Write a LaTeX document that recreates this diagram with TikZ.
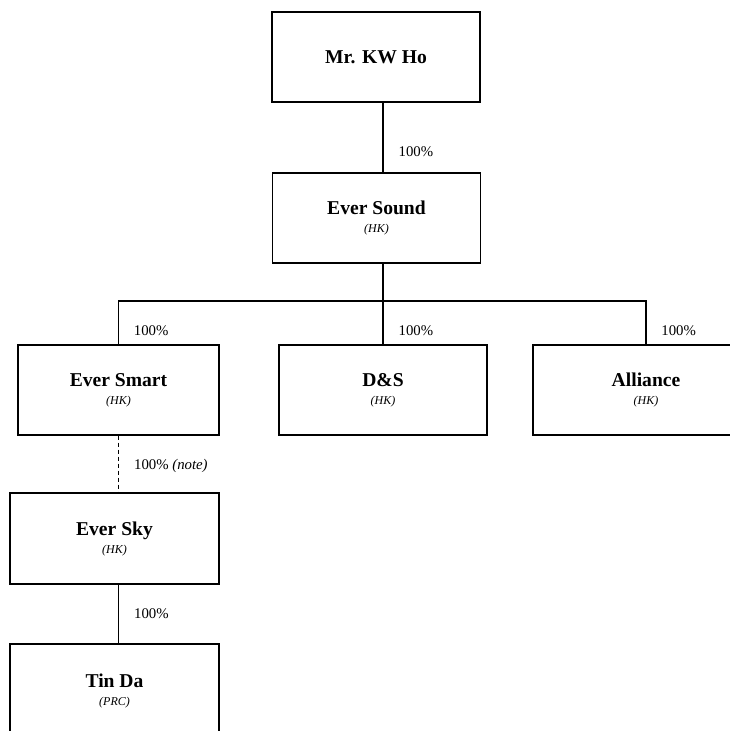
\documentclass[tikz,border=0pt]{standalone}
\usepackage{fontspec}
\setmainfont{Liberation Serif}
\usetikzlibrary{calc}
\tikzset{
    entity/.style={draw, line width=0.6pt, align=center, inner sep=0pt,
        minimum height=45pt, font=\fontsize{9.8}{10.5}\selectfont\bfseries},
    pct/.style={anchor=west, inner sep=0pt, xshift=7.5pt, font=\fontsize{7.4}{9}\selectfont},
    link/.style={line width=0.6pt}
}
\newcommand{\regn}[1]{\\[-1.5pt]{\fontsize{6}{7}\selectfont\mdseries\itshape #1}}

\begin{document}
\begin{tikzpicture}[x=0.5pt, y=-0.5pt]
    \useasboundingbox (0,0) rectangle (729,731);
    \node[entity, minimum width=104pt] (ho) at (376,57) {Mr. KW Ho};
    \node[entity, minimum width=104pt] (sound) at (376.5,218) {Ever Sound\regn{(HK)}};
    \node[entity, minimum width=100.5pt] (smart) at (118.5,390) {Ever Smart\regn{(HK)}};
    \node[entity, minimum width=104pt] (ds) at (383,390) {D\&S\regn{(HK)}};
    \node[entity, minimum width=113pt] (alliance) at (646,390) {Alliance\regn{(HK)}};
    \node[entity, minimum width=104.5pt, minimum height=45.5pt] (sky) at (114.5,538.5) {Ever Sky\regn{(HK)}};
    \node[entity, minimum width=104.5pt, minimum height=47pt] (tinda) at (114.5,691) {Tin Da\regn{(PRC)}};
    \coordinate (bus) at (383,301);
    \draw[link] (ho.south -| bus) -- (sound.north -| bus)
        node[pct, pos=0.7] (p0) {100\%};
    \draw[link] (sound.south -| bus) -- (ds.north)
        node[pct, pos=0.83] (p2) {100\%};
    \draw[link] (smart.north) |- (bus) -| (alliance.north);
    \node[pct] (p1) at ($(smart.north)!0.32!(smart.north |- bus)$) {100\%};
    \node[pct] (p3) at ($(alliance.north)!0.32!(alliance.north |- bus)$) {100\%};
    \draw[link, dash pattern=on 2pt off 1.5pt] (smart.south) -- (smart.south |- sky.north)
        node[pct, pos=0.53] (p4) {100\% {\itshape (note)}};
    \draw[link] (sky.south -| smart.south) -- (tinda.north -| smart.south)
        node[pct, pos=0.5] (p5) {100\%};
\end{tikzpicture}
\end{document}
